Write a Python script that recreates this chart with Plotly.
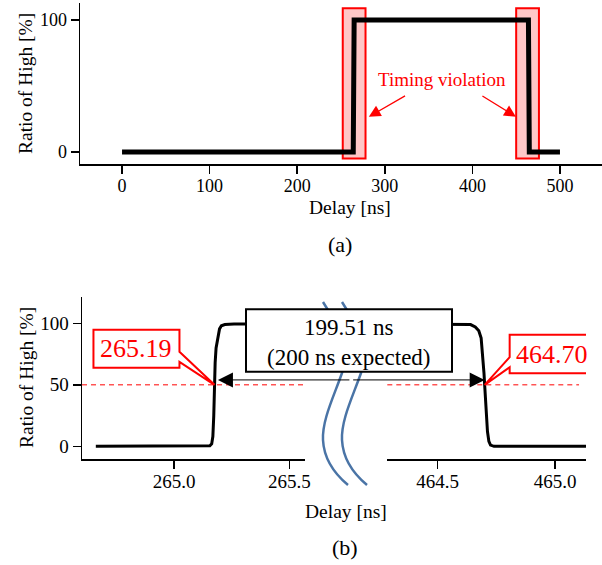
import plotly.graph_objects as go

W, H = 602, 565
FONT = "Liberation Serif"
RED = "#ff0000"
BLUE = "#4a74a6"

# ---------------- data ----------------
# panel (a)
delay_a = [0, 264, 265, 464, 465, 500]
ratio_a = [0, 0, 100, 100, 0, 0]
violation_start = [252, 450]
violation_end = [278, 476]
violation_low, violation_high = -5, 109

# panel (b)
delay_b_left = [264.66, 265.00, 265.14, 265.155, 265.163, 265.168, 265.172, 265.175,
                265.178, 265.182, 265.19, 265.197, 265.205, 265.22, 265.26, 265.568]
ratio_b_left = [0, 0, 0, 0.5, 2, 8, 25, 50, 68, 80, 90, 95.5, 98, 99, 99.5, 99.5]
delay_b_right = [464.285, 464.60, 464.64, 464.66, 464.675, 464.685, 464.692, 464.697,
                 464.70, 464.703, 464.707, 464.712, 464.718, 464.725, 464.74, 465.132]
ratio_b_right = [99.5, 99.5, 99, 97, 94, 88, 75, 60, 50, 40, 25, 12, 4, 1, 0, 0]

cross_left_label = "265.19"
cross_right_label = "464.70"
cross_left_x = 265.175      # visible 50% crossing (picture)
cross_right_x = 464.70
arrow_left_x = 265.19
arrow_right_x = 464.70
arrow_y = 54
half_level = 50
width_text = "199.51 ns<br>(200 ns expected)"

x_ticks_a = [0, 100, 200, 300, 400, 500]
y_ticks_a = [0, 100]
x_ticks_b_left = [265.0, 265.5]
x_ticks_b_right = [464.5, 465.0]
y_ticks_b = [0, 50, 100]


def px(x):
    return x / W


def py(y):
    return 1 - y / H


fig = go.Figure()
fig.add_trace(go.Scatter(x=delay_a, y=ratio_a, mode="lines", xaxis="x", yaxis="y",
                         line=dict(color="black", width=5), showlegend=False, hoverinfo="skip"))
fig.add_trace(go.Scatter(x=delay_b_left, y=ratio_b_left, mode="lines", xaxis="x2", yaxis="y2",
                         line=dict(color="black", width=3), showlegend=False, hoverinfo="skip"))
fig.add_trace(go.Scatter(x=delay_b_right, y=ratio_b_right, mode="lines", xaxis="x3", yaxis="y2",
                         line=dict(color="black", width=3), showlegend=False, hoverinfo="skip"))

axis_common = dict(showgrid=False, zeroline=False, showline=True, linecolor="black",
                   linewidth=1.5, ticks="outside", ticklen=8, tickwidth=1.5,
                   tickcolor="black", automargin=False)

fig.update_layout(
    template="none",
    width=W, height=H, margin=dict(l=0, r=0, t=0, b=0, pad=0),
    paper_bgcolor="white", plot_bgcolor="rgba(0,0,0,0)",
    font=dict(family=FONT, color="black"),
    showlegend=False,
    xaxis=dict(domain=[px(80), 1], range=[-48, 548], anchor="y", tickvals=x_ticks_a,
               tickfont=dict(family=FONT, size=18), ticklabelstandoff=-3, **axis_common),
    yaxis=dict(domain=[py(164), py(3)], range=[-9.1, 112.9], anchor="x", tickvals=y_ticks_a,
               tickfont=dict(family=FONT, size=18), **axis_common),
    xaxis2=dict(domain=[px(82), px(305)], range=[264.60, 265.568], anchor="y2",
                tickvals=x_ticks_b_left, tickformat=".1f", tickfont=dict(family=FONT, size=19),
                ticklabelstandoff=-3, **axis_common),
    xaxis3=dict(domain=[px(387.3), px(586)], range=[464.285, 465.132], anchor="y2",
                tickvals=x_ticks_b_right, tickformat=".1f", tickfont=dict(family=FONT, size=19),
                ticklabelstandoff=-3, **axis_common),
    yaxis2=dict(domain=[py(459), py(297)], range=[-10.3, 121.4], anchor="x2",
                tickvals=y_ticks_b, tickfont=dict(family=FONT, size=19), **axis_common),
)

shapes = []
# timing violation windows
for x0, x1 in zip(violation_start, violation_end):
    shapes.append(dict(type="rect", xref="x", yref="y", x0=x0, x1=x1,
                       y0=violation_low, y1=violation_high, layer="below",
                       fillcolor="rgba(255,0,0,0.22)", line=dict(color=RED, width=2)))
# dashed 50% lines
shapes.append(dict(type="line", xref="x2 domain", yref="y2", x0=0, x1=1,
                   y0=half_level, y1=half_level, layer="below",
                   line=dict(color=RED, width=1, dash="5px,4px")))
shapes.append(dict(type="line", xref="x3 domain", yref="y2", x0=0, x1=0.965,
                   y0=half_level, y1=half_level, layer="below",
                   line=dict(color=RED, width=1, dash="5px,4px")))


# axis break marks (decorative, paper coordinates)
def break_path(dx):
    pts = [(323, 302), (338, 325), (350, 350), (342, 373), (334, 396), (322, 420),
           (323, 440), (324, 460), (336, 475), (348, 485)]
    p = [(px(x + dx), py(y)) for x, y in pts]
    s = "M {:.5f},{:.5f}".format(*p[0])
    for i in range(1, len(p), 3):
        s += " C {:.5f},{:.5f} {:.5f},{:.5f} {:.5f},{:.5f}".format(*p[i], *p[i + 1], *p[i + 2])
    return s


for dx in (0, 19):
    shapes.append(dict(type="path", xref="paper", yref="paper", path=break_path(dx),
                       line=dict(color=BLUE, width=2.5), layer="above"))

# width box
shapes.append(dict(type="rect", xref="paper", yref="paper", x0=px(246), x1=px(452),
                   y0=py(371.7), y1=py(309.3), fillcolor="white",
                   line=dict(color="black", width=2), layer="above"))

# callouts (pixel-sized, anchored to the crossing points)
shapes.append(dict(type="path", xref="x2", yref="y2", xsizemode="pixel", ysizemode="pixel",
                   xanchor=cross_left_x, yanchor=half_level,
                   path="M 0,0 L -35,23 L -35,17 L -121,17 L -121,55 L -35,55 L -35,33 Z",
                   fillcolor="white", line=dict(color=RED, width=2), layer="above"))
shapes.append(dict(type="path", xref="x3", yref="y2", xsizemode="pixel", ysizemode="pixel",
                   xanchor=cross_right_x, yanchor=half_level,
                   path="M 0,0 L 25,27.6 L 25,50 L 109,50 L 109,11.6 L 25,11.6 L 25,17.6 Z",
                   fillcolor="white", line=dict(color=RED, width=2), layer="above"))
fig.update_layout(shapes=shapes)

C = dict(xanchor="center", yanchor="middle")
ann = []
# texts
ann.append(dict(text="Timing violation", x=365.8, y=55.3, xref="x", yref="y", showarrow=False,
                font=dict(family=FONT, size=19, color=RED), **C))
ann.append(dict(text="", x=281.8, y=26.7, xref="x", yref="y", ax=37.7, ay=-21.7,
                showarrow=True, arrowhead=2, arrowsize=1.8, arrowwidth=1.3, arrowcolor=RED))
ann.append(dict(text="", x=449.7, y=26.7, xref="x", yref="y", ax=-35, ay=-21.7,
                showarrow=True, arrowhead=2, arrowsize=1.8, arrowwidth=1.3, arrowcolor=RED))
# double arrow
ann.append(dict(text="", x=arrow_left_x, y=arrow_y, xref="x2", yref="y2", ax=133, ay=0,
                showarrow=True, arrowhead=2, arrowsize=3, arrowwidth=1, arrowcolor="black"))
ann.append(dict(text="", x=arrow_right_x, y=arrow_y, xref="x3", yref="y2", ax=-133, ay=0,
                showarrow=True, arrowhead=2, arrowsize=3, arrowwidth=1, arrowcolor="black"))
ann.append(dict(text=width_text, x=px(349), y=py(342), xref="paper", yref="paper",
                showarrow=False, font=dict(family=FONT, size=23, color="black"), **C))
ann.append(dict(text=cross_left_label, x=cross_left_x, y=half_level, xref="x2", yref="y2",
                xshift=-78, yshift=36, showarrow=False,
                font=dict(family=FONT, size=26, color=RED), **C))
ann.append(dict(text=cross_right_label, x=cross_right_x, y=half_level, xref="x3", yref="y2",
                xshift=67, yshift=30.8, showarrow=False,
                font=dict(family=FONT, size=26, color=RED), **C))
# axis titles and panel labels
for t, x, y, rot in [("Ratio of High [%]", 25, 84, -90), ("Delay [ns]", 350, 207, 0),
                     ("(a)", 340, 244, 0), ("Ratio of High [%]", 26, 378, -90),
                     ("Delay [ns]", 345.5, 511.5, 0), ("(b)", 345, 547, 0)]:
    size = 22 if t.startswith("(") else 19.5
    ann.append(dict(text=t, x=px(x), y=py(y), xref="paper", yref="paper", showarrow=False,
                    textangle=rot, font=dict(family=FONT, size=size, color="black"), **C))
fig.update_layout(annotations=ann)

fig.write_html("out.html", config={"displayModeBar": False, "staticPlot": True},
               post_script="document.body.style.margin='0';document.body.style.overflow='hidden';")
